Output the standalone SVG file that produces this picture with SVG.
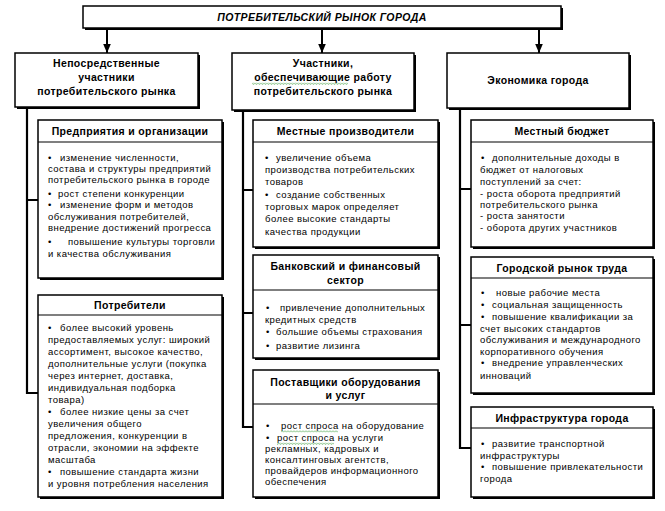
<svg xmlns="http://www.w3.org/2000/svg" width="665" height="511" viewBox="0 0 665 511">
<style>
.sh{fill:#000}
.box{fill:#fff;stroke:#000;stroke-width:1.5}
.sep{stroke:#000;stroke-width:1.2}
.conn{fill:none;stroke:#000;stroke-width:2.2}
.arr{fill:none;stroke:#000;stroke-width:2}
.t{font-family:"Liberation Sans",Arial,sans-serif;font-size:9.5px;letter-spacing:0.45px;fill:#000}
.b{font-family:"Liberation Sans",Arial,sans-serif;font-size:10.5px;font-weight:bold;letter-spacing:0.35px;text-anchor:middle;fill:#000}
.top{font-style:italic;letter-spacing:0.4px}
.sq{fill:url(#wave)}
</style>
<defs>
<marker id="ah" markerUnits="userSpaceOnUse" markerWidth="9" markerHeight="9" viewBox="0 -4 9 8" refX="9" refY="0" orient="auto">
<path d="M0,-3.8 L9,0 L0,3.8 Z" fill="#000"/>
</marker>
<pattern id="wave" width="3" height="2.5" patternUnits="userSpaceOnUse">
<path d="M0,0.5 L1.5,2 L3,0.5" stroke="#3c9c3c" stroke-width="0.7" fill="none"/>
</pattern>
</defs>

<g id="connectors">
<path class="arr" d="M107,28 V53" marker-end="url(#ah)"/>
<path class="arr" d="M322,28 V53" marker-end="url(#ah)"/>
<path class="arr" d="M539,28 V53" marker-end="url(#ah)"/>
<path class="conn" d="M27,107 V393 H38 M27,200 H38"/>
<path class="conn" d="M243,110 V427 H253 M243,190 H253 M243,313 H253"/>
<path class="conn" d="M460,108 V448 H471 M460,189 H471 M460,325 H471"/>
</g>

<g id="root">
<rect class="sh" x="85" y="8" width="478" height="22"/>
<rect class="box" x="83" y="6" width="478" height="22"/>
<text class="b top" x="322" y="21">ПОТРЕБИТЕЛЬСКИЙ РЫНОК ГОРОДА</text>
</g>

<g id="direct">
<rect class="sh" x="17" y="55" width="183" height="54"/>
<rect class="box" x="15" y="53" width="183" height="54"/>
<text class="b"><tspan x="106.5" y="67">Непосредственные</tspan><tspan x="106.5" y="81">участники</tspan><tspan x="106.5" y="95">потребительского рынка</tspan></text>
</g>

<g id="support">
<rect class="sh" x="234" y="55" width="182" height="57"/>
<rect class="box" x="232" y="53" width="182" height="57"/>
<text class="b"><tspan x="323" y="67">Участники,</tspan><tspan x="323" y="81">обеспечивающие работу</tspan><tspan x="323" y="95">потребительского рынка</tspan></text>
<rect class="sq" x="252" y="82.5" width="96" height="2.5"/>
</g>

<g id="economy">
<rect class="sh" x="449" y="55" width="182" height="55"/>
<rect class="box" x="447" y="53" width="182" height="55"/>
<text class="b" x="538" y="84">Экономика города</text>
</g>

<g id="enterprises">
<rect class="sh" x="40" y="122" width="184" height="158"/>
<rect class="box" x="38" y="120" width="184" height="158"/>
<line class="sep" x1="38" y1="142" x2="222" y2="142"/>
<text class="b" x="130" y="135">Предприятия и организации</text>
<text class="t">
<tspan x="48" y="161">•</tspan><tspan x="60" y="161">изменение численности,</tspan>
<tspan x="48" y="172">состава и структуры предприятий</tspan>
<tspan x="48" y="183">потребительского рынка в городе</tspan>
<tspan x="48" y="197">•</tspan><tspan x="58" y="197">рост степени конкуренции</tspan>
<tspan x="48" y="208">•</tspan><tspan x="60" y="208">изменение форм и методов</tspan>
<tspan x="48" y="220">обслуживания потребителей,</tspan>
<tspan x="48" y="231">внедрение достижений прогресса</tspan>
<tspan x="48" y="245">•</tspan><tspan x="68" y="245">повышение культуры торговли</tspan>
<tspan x="48" y="257">и качества обслуживания</tspan>
</text>
</g>

<g id="consumers">
<rect class="sh" x="40" y="297" width="184" height="202"/>
<rect class="box" x="38" y="295" width="184" height="202"/>
<line class="sep" x1="38" y1="315" x2="222" y2="315"/>
<text class="b" x="130" y="309">Потребители</text>
<text class="t">
<tspan x="48" y="331">•</tspan><tspan x="60" y="331">более высокий уровень</tspan>
<tspan x="48" y="343">предоставляемых услуг: широкий</tspan>
<tspan x="48" y="355">ассортимент, высокое качество,</tspan>
<tspan x="48" y="367">дополнительные услуги (покупка</tspan>
<tspan x="48" y="379">через интернет, доставка,</tspan>
<tspan x="48" y="391">индивидуальная подборка</tspan>
<tspan x="48" y="403">товара)</tspan>
<tspan x="48" y="415">•</tspan><tspan x="60" y="415">более низкие цены за счет</tspan>
<tspan x="48" y="427">увеличения общего</tspan>
<tspan x="48" y="439">предложения, конкуренции в</tspan>
<tspan x="48" y="451">отрасли, экономии на эффекте</tspan>
<tspan x="48" y="463">масштаба</tspan>
<tspan x="48" y="475">•</tspan><tspan x="60" y="475">повышение стандарта жизни</tspan>
<tspan x="48" y="487">и уровня потребления населения</tspan>
</text>
</g>

<g id="producers">
<rect class="sh" x="255" y="122" width="185" height="127"/>
<rect class="box" x="253" y="120" width="185" height="127"/>
<line class="sep" x1="253" y1="142" x2="438" y2="142"/>
<text class="b" x="345.5" y="135">Местные производители</text>
<text class="t">
<tspan x="265" y="161">•</tspan><tspan x="276" y="161">увеличение объема</tspan>
<tspan x="265" y="173">производства потребительских</tspan>
<tspan x="265" y="185">товаров</tspan>
<tspan x="265" y="198">•</tspan><tspan x="276" y="198">создание собственных</tspan>
<tspan x="265" y="210">торговых марок определяет</tspan>
<tspan x="265" y="222">более высокие стандарты</tspan>
<tspan x="265" y="235">качества продукции</tspan>
</text>
</g>

<g id="banking">
<rect class="sh" x="255" y="257" width="185" height="103"/>
<rect class="box" x="253" y="255" width="185" height="103"/>
<line class="sep" x1="253" y1="290" x2="438" y2="290"/>
<text class="b"><tspan x="345.5" y="270">Банковский и финансовый</tspan><tspan x="345.5" y="284">сектор</tspan></text>
<text class="t">
<tspan x="266" y="311">•</tspan><tspan x="280" y="311">привлечение дополнительных</tspan>
<tspan x="265" y="323">кредитных средств</tspan>
<tspan x="266" y="335">•</tspan><tspan x="276" y="335">большие объемы страхования</tspan>
<tspan x="266" y="349">•</tspan><tspan x="276" y="349">развитие лизинга</tspan>
</text>
</g>

<g id="suppliers">
<rect class="sh" x="255" y="372" width="185" height="127"/>
<rect class="box" x="253" y="370" width="185" height="127"/>
<line class="sep" x1="253" y1="404" x2="438" y2="404"/>
<text class="b"><tspan x="345.5" y="386">Поставщики оборудования</tspan><tspan x="345.5" y="399">и услуг</tspan></text>
<text class="t">
<tspan x="266" y="429">•</tspan><tspan x="281" y="429">рост спроса на оборудование</tspan>
<tspan x="266" y="441">•</tspan><tspan x="277" y="441">рост спроса на услуги</tspan>
<tspan x="265" y="452">рекламных, кадровых и</tspan>
<tspan x="265" y="463">консалтинговых агентств,</tspan>
<tspan x="265" y="474">провайдеров информационного</tspan>
<tspan x="265" y="485">обеспечения</tspan>
</text>
<rect class="sq" x="281" y="430" width="57" height="2.5"/>
<rect class="sq" x="277" y="442.5" width="57" height="2.5"/>
</g>

<g id="budget">
<rect class="sh" x="473" y="122" width="182" height="127"/>
<rect class="box" x="471" y="120" width="182" height="127"/>
<line class="sep" x1="471" y1="142" x2="653" y2="142"/>
<text class="b" x="562" y="135">Местный бюджет</text>
<text class="t">
<tspan x="481" y="161">•</tspan><tspan x="492" y="161">дополнительные доходы в</tspan>
<tspan x="480" y="173">бюджет от налоговых</tspan>
<tspan x="480" y="185">поступлений за счет:</tspan>
<tspan x="480" y="197">- роста оборота предприятий</tspan>
<tspan x="480" y="208">потребительского рынка</tspan>
<tspan x="480" y="219">- роста занятости</tspan>
<tspan x="480" y="231">- оборота других участников</tspan>
</text>
</g>

<g id="labor">
<rect class="sh" x="473" y="259" width="182" height="136"/>
<rect class="box" x="471" y="257" width="182" height="136"/>
<line class="sep" x1="471" y1="278" x2="653" y2="278"/>
<text class="b" x="562" y="272">Городской рынок труда</text>
<text class="t">
<tspan x="481" y="296">•</tspan><tspan x="496" y="296">новые рабочие места</tspan>
<tspan x="481" y="308">•</tspan><tspan x="492" y="308">социальная защищенность</tspan>
<tspan x="481" y="320">•</tspan><tspan x="492" y="320">повышение квалификации за</tspan>
<tspan x="480" y="332">счет высоких стандартов</tspan>
<tspan x="480" y="343">обслуживания и международного</tspan>
<tspan x="480" y="355">корпоративного обучения</tspan>
<tspan x="481" y="366">•</tspan><tspan x="492" y="366">внедрение управленческих</tspan>
<tspan x="480" y="379">инноваций</tspan>
</text>
</g>

<g id="infrastructure">
<rect class="sh" x="473" y="409" width="182" height="90"/>
<rect class="box" x="471" y="407" width="182" height="90"/>
<line class="sep" x1="471" y1="428" x2="653" y2="428"/>
<text class="b" x="562" y="422">Инфраструктура города</text>
<text class="t">
<tspan x="481" y="447">•</tspan><tspan x="492" y="447">развитие транспортной</tspan>
<tspan x="480" y="459">инфраструктуры</tspan>
<tspan x="481" y="470">•</tspan><tspan x="492" y="470">повышение привлекательности</tspan>
<tspan x="480" y="482">города</tspan>
</text>
</g>
</svg>
